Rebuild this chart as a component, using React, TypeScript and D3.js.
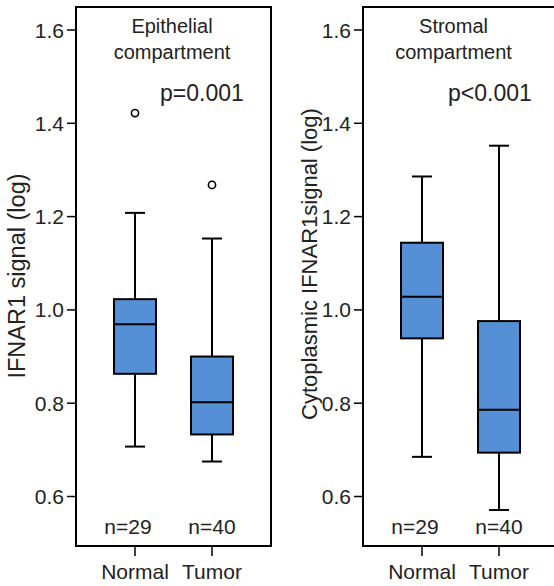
import React from "react";
import * as d3 from "d3";

const categories = ["Normal", "Tumor"];
const nLabels = ["n=29", "n=40"];
const yTicks = [0.6, 0.8, 1.0, 1.2, 1.4, 1.6];

// [lowerWhisker, q1, median, q3, upperWhisker]
const epithelialStats = [
  [0.707, 0.863, 0.969, 1.023, 1.208],
  [0.675, 0.733, 0.802, 0.9, 1.153],
];
const epithelialOutliers = [[1.422], [1.268]];
const stromalStats = [
  [0.685, 0.939, 1.028, 1.144, 1.286],
  [0.571, 0.694, 0.786, 0.976, 1.352],
];
const stromalOutliers: number[][] = [[], []];

const panels = [
  {
    title: ["Epithelial", "compartment"],
    p: "p=0.001",
    ylabel: "IFNAR1 signal (log)",
    stats: epithelialStats,
    outliers: epithelialOutliers,
  },
  {
    title: ["Stromal", "compartment"],
    p: "p<0.001",
    ylabel: "Cytoplasmic IFNAR1signal (log)",
    stats: stromalStats,
    outliers: stromalOutliers,
  },
];

const W = 554;
const H = 586;
const FONT = "'Liberation Sans', Arial, sans-serif";
const FILL = "#5590d6";

export default function App() {
  const y = d3.scaleLinear().domain([0.6, 1.6]).range([496.5, 30]);
  const frameTop = 7;
  const frameBottom = 546;
  const panelX = [76, 363];
  const panelW = [195, 260];
  const x = d3.scalePoint<string>().domain(categories).range([59, 136]);
  const boxW = 42;
  const capW = 20;
  const nOffset = [-7, 0];
  const titleCx = [172, 453.5];
  const pX = [160, 448];
  const ylabelX = [25, 317];
  const ylabelCy = [276, 264];
  const ylabelSize = [23.5, 22];

  return (
    <svg
      width={W}
      height={H}
      style={{ position: "absolute", left: 0, top: 0 }}
      fontFamily={FONT}
    >
      <rect width={W} height={H} fill="#fff" />
      {panels.map((pn, pi) => {
        const px = panelX[pi];
        const pw = panelW[pi];
        return (
          <g key={pi}>
            {/* frame */}
            <rect
              x={px}
              y={frameTop}
              width={pw}
              height={frameBottom - frameTop}
              fill="none"
              stroke="#000"
              strokeWidth={2}
            />
            {/* y ticks */}
            {yTicks.map((t) => (
              <g key={t}>
                <line
                  x1={px - 9}
                  x2={px}
                  y1={y(t)}
                  y2={y(t)}
                  stroke="#000"
                  strokeWidth={1.5}
                />
                <text
                  x={px - 12}
                  y={y(t)}
                  dy="0.36em"
                  textAnchor="end"
                  fontSize={21}
                  fill="#222"
                >
                  {d3.format(".1f")(t)}
                </text>
              </g>
            ))}
            {/* y label */}
            <text
              transform={`translate(${ylabelX[pi]},${ylabelCy[pi]}) rotate(-90)`}
              textAnchor="middle"
              fontSize={ylabelSize[pi]}
              fill="#222"
            >
              {pn.ylabel}
            </text>
            {/* title */}
            <text x={titleCx[pi]} y={33} textAnchor="middle" fontSize={20} fill="#222">
              {pn.title[0]}
            </text>
            <text x={titleCx[pi]} y={59} textAnchor="middle" fontSize={20} fill="#222">
              {pn.title[1]}
            </text>
            <text x={pX[pi]} y={101} fontSize={23} fill="#222">
              {pn.p}
            </text>
            {/* boxes */}
            {categories.map((c, ci) => {
              const cx = px + (x(c) as number);
              const [lo, q1, med, q3, hi] = pn.stats[ci];
              return (
                <g key={c}>
                  <line x1={cx} x2={cx} y1={y(hi)} y2={y(q3)} stroke="#000" strokeWidth={2} />
                  <line x1={cx} x2={cx} y1={y(q1)} y2={y(lo)} stroke="#000" strokeWidth={2} />
                  <line
                    x1={cx - capW / 2}
                    x2={cx + capW / 2}
                    y1={y(hi)}
                    y2={y(hi)}
                    stroke="#000"
                    strokeWidth={2}
                  />
                  <line
                    x1={cx - capW / 2}
                    x2={cx + capW / 2}
                    y1={y(lo)}
                    y2={y(lo)}
                    stroke="#000"
                    strokeWidth={2}
                  />
                  <rect
                    x={cx - boxW / 2}
                    y={y(q3)}
                    width={boxW}
                    height={y(q1) - y(q3)}
                    fill={FILL}
                    stroke="#000"
                    strokeWidth={2}
                  />
                  <line
                    x1={cx - boxW / 2}
                    x2={cx + boxW / 2}
                    y1={y(med)}
                    y2={y(med)}
                    stroke="#000"
                    strokeWidth={2}
                  />
                  {pn.outliers[ci].map((o, oi) => (
                    <circle
                      key={oi}
                      cx={cx}
                      cy={y(o)}
                      r={3.6}
                      fill="#fff"
                      stroke="#000"
                      strokeWidth={1.6}
                    />
                  ))}
                  <text
                    x={cx + nOffset[ci]}
                    y={534}
                    textAnchor="middle"
                    fontSize={21}
                    fill="#222"
                  >
                    {nLabels[ci]}
                  </text>
                  <line
                    x1={cx}
                    x2={cx}
                    y1={frameBottom}
                    y2={frameBottom + 10}
                    stroke="#000"
                    strokeWidth={1.5}
                  />
                  <text x={cx} y={579} textAnchor="middle" fontSize={21} fill="#222">
                    {c}
                  </text>
                </g>
              );
            })}
          </g>
        );
      })}
    </svg>
  );
}
